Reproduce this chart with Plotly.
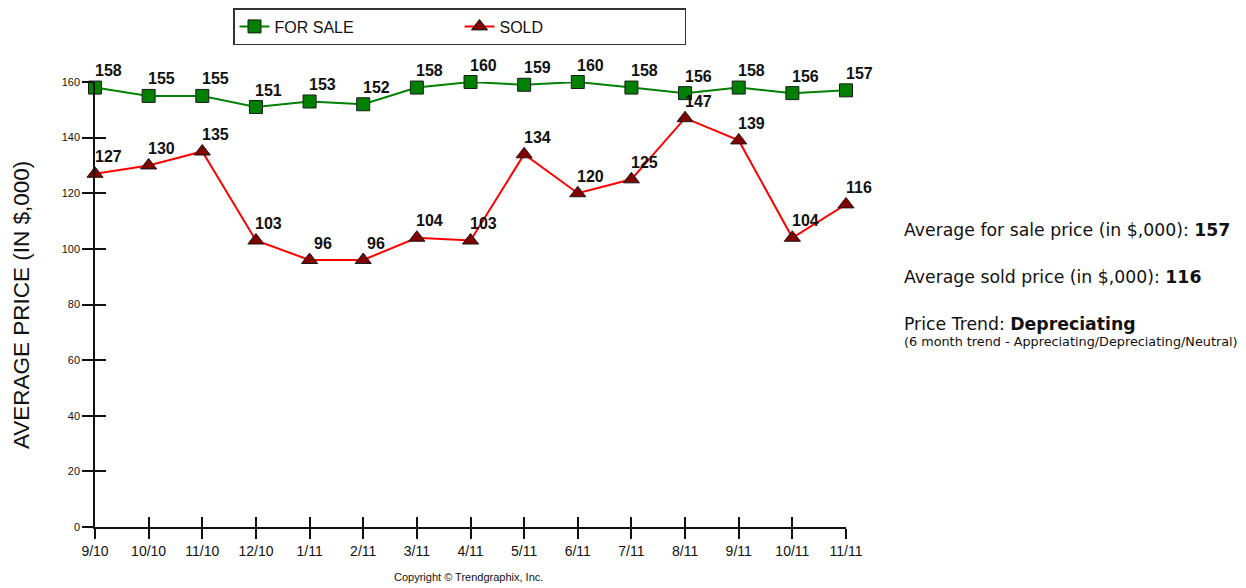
import plotly.graph_objects as go

months = ["9/10", "10/10", "11/10", "12/10", "1/11", "2/11", "3/11", "4/11",
          "5/11", "6/11", "7/11", "8/11", "9/11", "10/11", "11/11"]
for_sale = [158, 155, 155, 151, 153, 152, 158, 160, 159, 160, 158, 156, 158, 156, 157]
sold = [127, 130, 135, 103, 96, 96, 104, 103, 134, 120, 125, 147, 139, 104, 116]
y_ticks = [0, 20, 40, 60, 80, 100, 120, 140, 160]

avg_for_sale = 157
avg_sold = 116
trend = "Depreciating"

FONT = "Liberation Sans, Arial, sans-serif"
SIDE_FONT = "DejaVu Sans, Verdana, sans-serif"

# the page body adds an 8px margin, so the figure is 8px smaller than the window
W, H = 1238, 580

fig = go.Figure()
fig.add_trace(go.Scatter(
    x=months, y=for_sale, name="FOR SALE", mode="lines+markers",
    line=dict(color="#008000", width=2),
    marker=dict(symbol="square", size=13, color="#008000",
                line=dict(color="#1a1a1a", width=1)),
    cliponaxis=False,
))
fig.add_trace(go.Scatter(
    x=months, y=sold, name="SOLD", mode="lines+markers",
    line=dict(color="#ff0000", width=2),
    marker=dict(symbol="triangle-up", size=14, color="#800000",
                line=dict(color="#1a1a1a", width=1)),
    cliponaxis=False,
))
# invisible trace on overlay axes to get ticks crossing the axis lines
fig.add_trace(go.Scatter(x=months, y=sold, xaxis="x2", yaxis="y2",
                         mode="markers", marker=dict(opacity=0),
                         showlegend=False, hoverinfo="skip"))

# value labels, placed up-right of each marker
for series in (for_sale, sold):
    for m, v in zip(months, series):
        fig.add_annotation(x=m, y=v, xref="x", yref="y", text=str(v),
                           showarrow=False, xshift=13, yshift=17,
                           font=dict(family=FONT, size=16, color="#111111",
                                     weight="bold"))

fig.update_layout(
    width=W, height=H,
    margin=dict(l=87, r=400, t=74, b=61, autoexpand=False),
    paper_bgcolor="white", plot_bgcolor="white",
    font=dict(family=FONT, color="#111111"),
    showlegend=True,
    legend=dict(orientation="h", xref="container", yref="container",
                x=225 / W, y=1.0, xanchor="left", yanchor="top",
                bordercolor="#333333", borderwidth=1.5, bgcolor="white",
                font=dict(family=FONT, size=16, color="#111111"),
                entrywidth=180),
    xaxis=dict(type="category", range=[0, len(months) - 1], automargin=False,
               showline=True, linecolor="#111111", linewidth=1.5,
               ticks="outside", ticklen=10, tickwidth=1.5, tickcolor="#111111",
               tickfont=dict(family=FONT, size=14, color="#111111"),
               showgrid=False, zeroline=False, fixedrange=True),
    yaxis=dict(range=[0, 160], tickvals=y_ticks, automargin=False,
               showline=True, linecolor="#111111", linewidth=1.5,
               ticks="outside", ticklen=11, tickwidth=1.5, tickcolor="#111111",
               tickfont=dict(family=FONT, size=11, color="#111111"),
               showgrid=False, zeroline=False),
    xaxis2=dict(type="category", range=[0, len(months) - 1], overlaying="x",
                anchor="y2", ticks="inside", ticklen=10, tickwidth=1.5,
                tickcolor="#111111", showticklabels=False, showgrid=False,
                zeroline=False, showline=False),
    yaxis2=dict(range=[0, 160], tickvals=y_ticks, overlaying="y", anchor="x2",
                ticks="inside", ticklen=11, tickwidth=1.5, tickcolor="#111111",
                showticklabels=False, showgrid=False, zeroline=False,
                showline=False),
)

fig.add_annotation(xref="paper", yref="paper", x=-0.097, y=0.499,
                   xanchor="center", yanchor="middle", showarrow=False,
                   textangle=-90, text="AVERAGE PRICE (IN $,000)",
                   font=dict(family=FONT, size=22.5, color="#111111"))

side = [
    dict(y=0.667, text=f"Average for sale price (in $,000): <b>{avg_for_sale}</b>", size=17.3),
    dict(y=0.562, text=f"Average sold price (in $,000): <b>{avg_sold}</b>", size=17.3),
    dict(y=0.456, text=f"Price Trend: <b>{trend}</b>", size=17.3),
    dict(y=0.416, text="(6 month trend - Appreciating/Depreciating/Neutral)", size=12.8),
]
for s in side:
    fig.add_annotation(xref="paper", yref="paper", x=1.074, y=s["y"],
                       xanchor="left", yanchor="middle", showarrow=False,
                       text=s["text"],
                       font=dict(family=SIDE_FONT, size=s["size"], color="#111111"))

fig.add_annotation(xref="paper", yref="paper", x=0.497, y=-0.112,
                   xanchor="center", yanchor="middle", showarrow=False,
                   text="Copyright © Trendgraphix, Inc.",
                   font=dict(family=FONT, size=11, color="#111111"))

fig.write_html("out.html")
